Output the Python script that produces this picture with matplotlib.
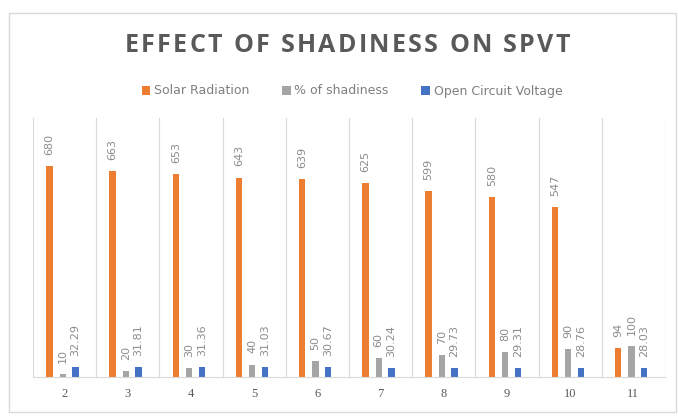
import matplotlib.pyplot as plt
import numpy as np
from matplotlib.patches import Rectangle

categories = ['2', '3', '4', '5', '6', '7', '8', '9', '10', '11']
solar_radiation = [680, 663, 653, 643, 639, 625, 599, 580, 547, 94]
shadiness = [10, 20, 30, 40, 50, 60, 70, 80, 90, 100]
ocv = [32.29, 31.81, 31.36, 31.03, 30.67, 30.24, 29.73, 29.31, 28.76, 28.03]
ocv_labels = ['32.29', '31.81', '31.36', '31.03', '30.67', '30.24', '29.73', '29.31', '28.76', '28.03']

series = [
    ('Solar Radiation', solar_radiation, [str(v) for v in solar_radiation], '#ED7D31'),
    ('% of shadiness', shadiness, [str(v) for v in shadiness], '#A5A5A5'),
    ('Open Circuit Voltage', ocv, ocv_labels, '#4472C4'),
]

text_col = '#8c8c8c'
W, H = 678, 418

fig = plt.figure(figsize=(W / 100, H / 100), dpi=100)
ax = fig.add_axes([33 / W, 1 - 377 / H, 632 / W, 259 / H])

# outer chart frame
fig.patches.append(Rectangle((9 / W, 1 - 412 / H), 667 / W, 399 / H,
                             transform=fig.transFigure, fill=False,
                             edgecolor='#d9d9d9', linewidth=1.0))

x = np.arange(len(categories))
offsets = [-0.24, -0.03, 0.17]
width = 0.1

for (name, vals, labels, col), off in zip(series, offsets):
    bars = ax.bar(x + off, vals, width=width, color=col, label=name)
    for b, lab in zip(bars, labels):
        ax.annotate(lab, (b.get_x() + b.get_width() / 2, b.get_height()),
                    xytext=(0, 8), textcoords='offset points',
                    rotation=90, ha='center', va='bottom', fontsize=8,
                    color=text_col)

ax.set_xlim(-0.5, len(categories) - 0.5)
ax.set_ylim(0, 835)

# category separators
for b in np.arange(-0.5, len(categories) + 0.5, 1.0):
    ax.axvline(b, color='#d9d9d9', linewidth=0.8, zorder=0)

ax.set_xticks(x)
ax.set_xticklabels(categories, fontfamily='Liberation Serif', fontsize=9, color='#595959')
ax.tick_params(axis='x', length=0, pad=8)
ax.set_yticks([])
for s in ['top', 'left', 'right']:
    ax.spines[s].set_visible(False)
ax.spines['bottom'].set_color('#d9d9d9')

# title with letter spacing, drawn char by char
title = 'EFFECT OF SHADINESS ON SPVT'
renderer = fig.canvas.get_renderer()
chars = []
for ch in title:
    t = fig.text(0, 1 - 45 / H, ch, ha='left', va='center', fontsize=18,
                 fontweight='bold', color='#595959', fontfamily='Open Sans')
    chars.append(t)
widths = []
for ch, t in zip(title, chars):
    widths.append(7 if ch == ' ' else t.get_window_extent(renderer).width)
target = 445
gap = (target - sum(widths)) / (len(title) - 1)
xpos = 125
for t, w in zip(chars, widths):
    t.set_x(xpos / W)
    xpos += w + gap

fig.legend(loc='center', bbox_to_anchor=(352 / W, 1 - 91 / H), ncol=3, frameon=False,
           fontsize=9, handlelength=0.7, handleheight=0.7, handletextpad=0.3,
           columnspacing=2.6, labelcolor='#7f7f7f')

fig.savefig('out.png', dpi=100)
